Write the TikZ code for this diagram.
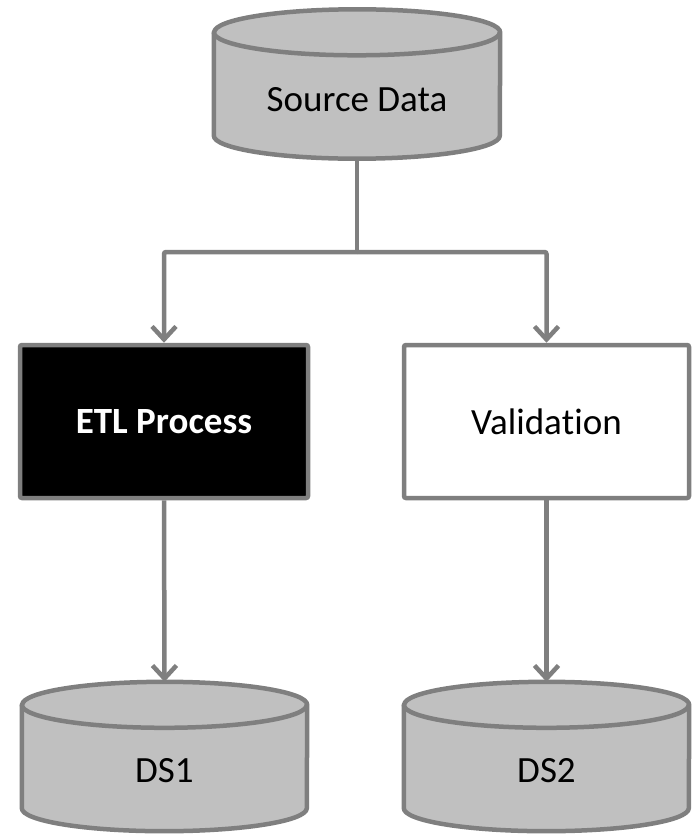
\documentclass[tikz,border=0pt]{standalone}
\usepackage{fontspec}
\setmainfont{Carlito}[Ligatures={NoCommon,NoContextual}]
\usetikzlibrary{arrows.meta}
\definecolor{edge}{HTML}{7F7F7F}
\definecolor{dbfill}{HTML}{C0C0C0}
\tikzset{
  x=1pt, y=1pt,
  cylbox/.style={minimum width=#1, minimum height=149pt, inner sep=0pt, draw=none},
  cylbody/.style={draw=edge, fill=dbfill, line width=4.5pt, line join=round},
  cylcap/.style={draw=edge, line width=4.5pt},
  txt/.style={font=\fontsize{37}{42}\selectfont, inner sep=0pt},
  procbox/.style={draw=edge, line width=4.5pt, rounded corners=2pt, minimum width=288pt, minimum height=153pt, inner sep=0pt, font=\fontsize{37}{42}\selectfont},
  conn/.style={draw=edge, line width=4.5pt, -{Straight Barb[length=13pt,width=24pt,line width=4.5pt]}},
}
\newcommand{\mycyl}[3]{% name, half width, cap radius
  \path[cylbody] ([yshift=-#3]#1.north west) -- ([yshift=#3]#1.south west)
    arc[start angle=180, end angle=360, x radius=#2, y radius=#3]
    -- ([yshift=-#3]#1.north east)
    arc[start angle=0, end angle=180, x radius=#2, y radius=#3] -- cycle;
  \draw[cylcap] ([yshift=-#3]#1.north west)
    arc[start angle=180, end angle=360, x radius=#2, y radius=#3];
}
\begin{document}
\begin{tikzpicture}
\useasboundingbox (0,0) rectangle (692,-835);
% cylinders
\node[cylbox=286pt] (src) at (357,-84) {};
\mycyl{src}{143pt}{23pt}
\node[txt] (srclbl) at (357,-100) {Source Data};

\node[cylbox=285pt] (ds1) at (164.5,-756.5) {};
\mycyl{ds1}{142.5pt}{23pt}
\node[txt] (ds1lbl) at (164.5,-771) {DS1};

\node[cylbox=285pt] (ds2) at (546.5,-756.5) {};
\mycyl{ds2}{142.5pt}{23pt}
\node[txt] (ds2lbl) at (546.5,-771) {DS2};

% process boxes
\node[procbox, fill=black, text=white, font=\fontsize{37}{42}\selectfont\bfseries] (etl) at (164,-421.5) {ETL Process};
\node[procbox, fill=white, minimum width=285pt] (val) at (546.5,-421.5) {Valida\kern0pt tion};

% connectors
\coordinate (split) at (357,-252);
\draw[draw=edge, line width=4.5pt] (src.south) -- (split);
\draw[conn, rounded corners=2pt] (split) -| (etl.north);
\draw[conn, rounded corners=2pt] (split) -| (val.north);
\draw[conn] (etl.south) -- (ds1.north);
\draw[conn] (val.south) -- (ds2.north);
\end{tikzpicture}
\end{document}
